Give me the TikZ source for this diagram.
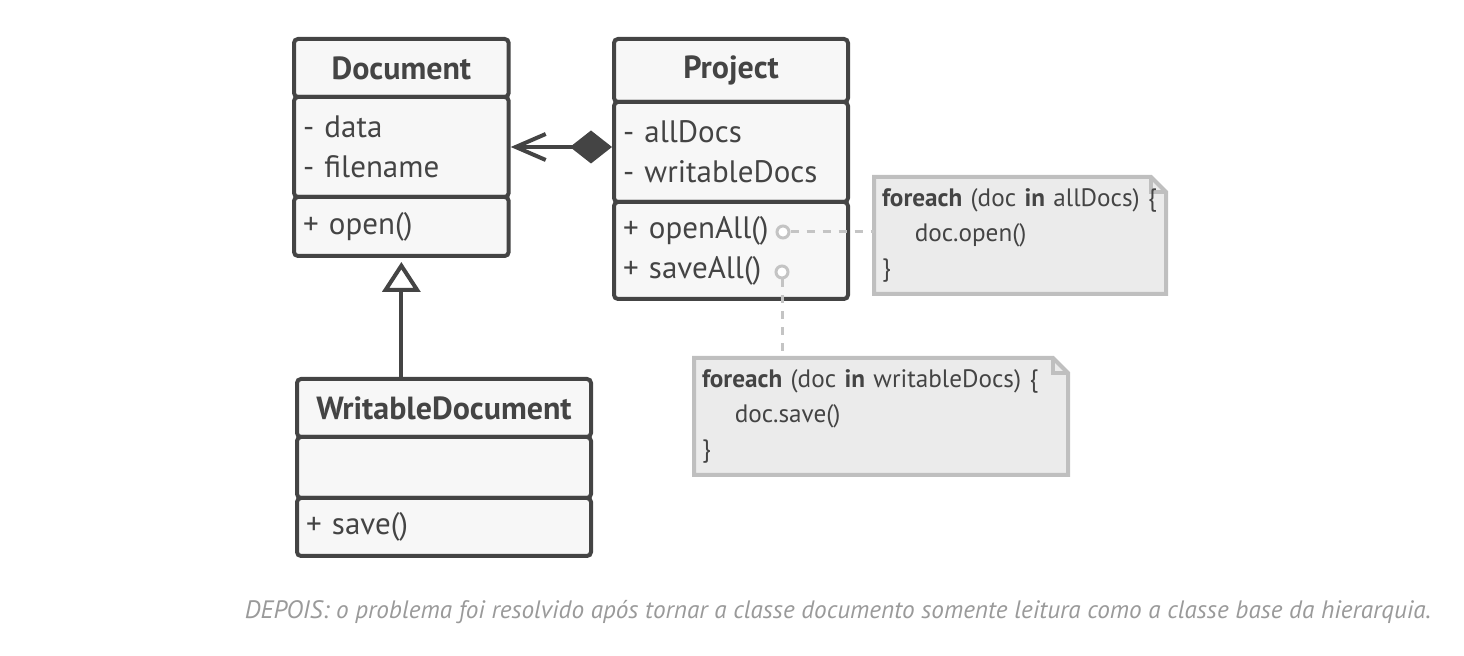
\documentclass[tikz,border=0pt]{standalone}
\usepackage{fontspec}
\setmainfont{PT Sans}
\usetikzlibrary{positioning,arrows.meta,backgrounds}
\definecolor{umldark}{HTML}{444444}
\definecolor{umlfill}{HTML}{F7F7F7}
\definecolor{notefill}{HTML}{EBEBEB}
\definecolor{notegray}{HTML}{BFBFBF}
\definecolor{pingray}{HTML}{C4C4C4}
\definecolor{capgray}{HTML}{9A9A9A}
\newcommand{\mknote}[2][notegray]{% #1: optional color, #2: note node
	\begin{scope}[on background layer]
		\draw[#1,line width=2pt,fill=notefill] (#2.north west) -- ([xshift=-7.5pt]#2.north east) -- ([yshift=-7.5pt]#2.north east) -- (#2.south east) -- (#2.south west) -- cycle;
		\draw[#1,line width=2pt] ([xshift=-7.5pt]#2.north east) |- ([yshift=-7.5pt]#2.north east);
	\end{scope}
}

\begin{document}
\begin{tikzpicture}[x=0.5pt,y=-0.5pt,
	umlpart/.style={draw=umldark,line width=2pt,fill=umlfill,rounded corners=2pt,inner xsep=4.5pt,inner ysep=0pt,align=left,text=umldark,font=\fontsize{15.5}{20}\selectfont},
	umlname/.style={umlpart,align=center,font=\bfseries\fontsize{16}{20}\selectfont},
	pin/.style={circle,draw=pingray,line width=1.5pt,fill=white,minimum size=6pt,inner sep=0pt},
	pinline/.style={draw=pingray,line width=1.5pt,dash pattern=on 4pt off 4pt},
	notetext/.style={inner xsep=4pt,inner ysep=0pt,outer sep=0pt,anchor=north west,align=left,text=umldark,minimum height=58.5pt,font=\fontsize{12.6}{17.5}\selectfont}]
	\useasboundingbox (0,0) rectangle (1464,656);

	% Document class
	\node[umlname,anchor=north west,text width=98.35pt,minimum height=29pt] (docname) at (292,37) {Document};
	\node[umlpart,below=-2pt of docname,text width=98.35pt,minimum height=50pt] (docattr) {- data\\- filename};
	\node[umlpart,below=-2pt of docattr,text width=98.35pt,minimum height=29.5pt] (docops) {+ open()};

	% Project class
	\node[umlname,anchor=north west,text width=108pt,minimum height=31.5pt] (projname) at (612,37) {Project};
	\node[umlpart,below=-2pt of projname,text width=108pt,minimum height=50pt] (projattr) {- allDocs\\- writableDocs};
	\node[umlpart,below=-2pt of projattr,text width=108pt,minimum height=48.5pt] (projops) {+ openAll()\\+ saveAll()};

	% WritableDocument class
	\node[umlname,anchor=north west,text width=138pt,minimum height=29pt] (wdname) at (295,377) {WritableDocument};
	\node[umlpart,below=-2pt of wdname,text width=138pt,minimum height=30.5pt] (wdattr) {};
	\node[umlpart,below=-2pt of wdattr,text width=138pt,minimum height=29pt] (wdops) {+ save()};

	% Relations
	\draw[umldark,line width=2pt,{Diamond[length=21pt,width=16.5pt]}-{Straight Barb[length=15pt,width=13pt]}] (docattr.east -| projattr.west) -- (docattr.east);
	\draw[umldark,line width=2pt,-{Triangle[open,length=15pt,width=19pt,fill=white]},shorten >=2pt] (docops.south |- wdname.north) -- (docops.south);

	% Notes
	\node[notetext,text width=138pt] (allnote) at (874,177) {\textbf{foreach} (doc \textbf{in} allDocs) \{\\\hspace*{1.3em}doc.open()\\\}};
	\mknote{allnote}
	\node[notetext,text width=179pt] (savenote) at (694,358) {\textbf{foreach} (doc \textbf{in} writableDocs) \{\\\hspace*{1.3em}doc.save()\\\}};
	\mknote{savenote}

	% Pins to notes
	\node[pin] (openpin) at (783,232) {};
	\node[pin] (savepin) at (782,272) {};
	\draw[pinline] (openpin) -- (openpin -| allnote.west);
	\draw[pinline] (savepin) -- (savepin |- savenote.north);

	% Caption
	\node[text=capgray,font=\itshape\fontsize{12.6}{15}\selectfont] (caption) at (838,612) {DEPOIS: o problema foi resolvido após tornar a classe documento somente leitura como a classe base da hierarquia.};
\end{tikzpicture}
\end{document}
